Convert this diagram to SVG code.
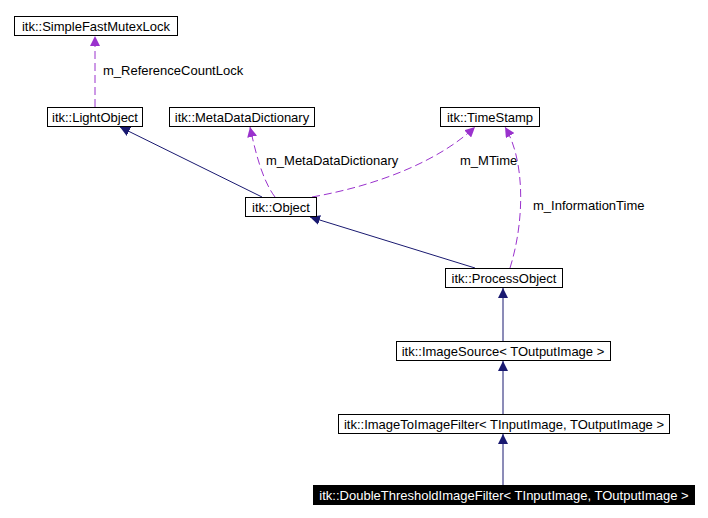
<svg xmlns="http://www.w3.org/2000/svg" width="708" height="518" viewBox="0 0 708 518">
<style>
.n rect{fill:#fff;stroke:#000;stroke-width:1}
.n text{font-family:"Liberation Sans",Arial,sans-serif;font-size:13px;text-anchor:middle;fill:#000}
#n9 rect{fill:#000}
#n9 text{fill:#fff}
.s{fill:none;stroke:#191970;stroke-width:1}
.d{fill:none;stroke:#9a32cd;stroke-width:1;stroke-dasharray:8,4}
.l{font-family:"Liberation Sans",Arial,sans-serif;font-size:13px;fill:#000}
</style>
<defs>
<marker id="as" viewBox="0 0 10 10" refX="10" refY="5" markerWidth="10" markerHeight="10" orient="auto" markerUnits="userSpaceOnUse"><path d="M0,0L10,5L0,10z" fill="#191970"/></marker>
<marker id="ad" viewBox="0 0 10 10" refX="10" refY="5" markerWidth="10" markerHeight="10" orient="auto" markerUnits="userSpaceOnUse"><path d="M0,0L10,5L0,10z" fill="#9a32cd"/></marker>
</defs>
<rect width="708" height="518" fill="#fff"/>
<g id="edges">
<path class="d" d="M95,107L95,36" marker-end="url(#ad)"/>
<text class="l" x="103" y="75">m_ReferenceCountLock</text>
<path class="s" d="M262,197L120,127" marker-end="url(#as)"/>
<path class="d" d="M275,197C262,180 255,150 250,127" marker-end="url(#ad)"/>
<text class="l" x="266" y="165">m_MetaDataDictionary</text>
<path class="d" d="M312,197C380,185 440,160 475,127" marker-end="url(#ad)"/>
<text class="l" x="460" y="165">m_MTime</text>
<path class="d" d="M510,268C525,220 525,160 505,127" marker-end="url(#ad)"/>
<text class="l" x="533" y="210">m_InformationTime</text>
<path class="s" d="M475,268L310,217" marker-end="url(#as)"/>
<path class="s" d="M503,341L503,288" marker-end="url(#as)"/>
<path class="s" d="M503,414L503,361" marker-end="url(#as)"/>
<path class="s" d="M503,485L503,434" marker-end="url(#as)"/>
</g>
<g id="n1" class="n"><rect x="14.5" y="16.5" width="163" height="19"/><text x="96" y="31">itk::SimpleFastMutexLock</text></g>
<g id="n2" class="n"><rect x="47.5" y="107.5" width="95" height="19"/><text x="95" y="122">itk::LightObject</text></g>
<g id="n3" class="n"><rect x="169.5" y="107.5" width="145" height="19"/><text x="242" y="122">itk::MetaDataDictionary</text></g>
<g id="n4" class="n"><rect x="440.5" y="107.5" width="99" height="19"/><text x="490" y="122">itk::TimeStamp</text></g>
<g id="n5" class="n"><rect x="245.5" y="197.5" width="71" height="19"/><text x="281" y="212">itk::Object</text></g>
<g id="n6" class="n"><rect x="445.5" y="268.5" width="117" height="19"/><text x="504" y="283">itk::ProcessObject</text></g>
<g id="n7" class="n"><rect x="396.5" y="341.5" width="214" height="19"/><text x="503" y="356">itk::ImageSource&lt; TOutputImage &gt;</text></g>
<g id="n8" class="n"><rect x="338.5" y="414.5" width="331" height="19"/><text x="504" y="429">itk::ImageToImageFilter&lt; TInputImage, TOutputImage &gt;</text></g>
<g id="n9" class="n"><rect x="313.5" y="485.5" width="381" height="19"/><text x="504" y="500">itk::DoubleThresholdImageFilter&lt; TInputImage, TOutputImage &gt;</text></g>
</svg>
